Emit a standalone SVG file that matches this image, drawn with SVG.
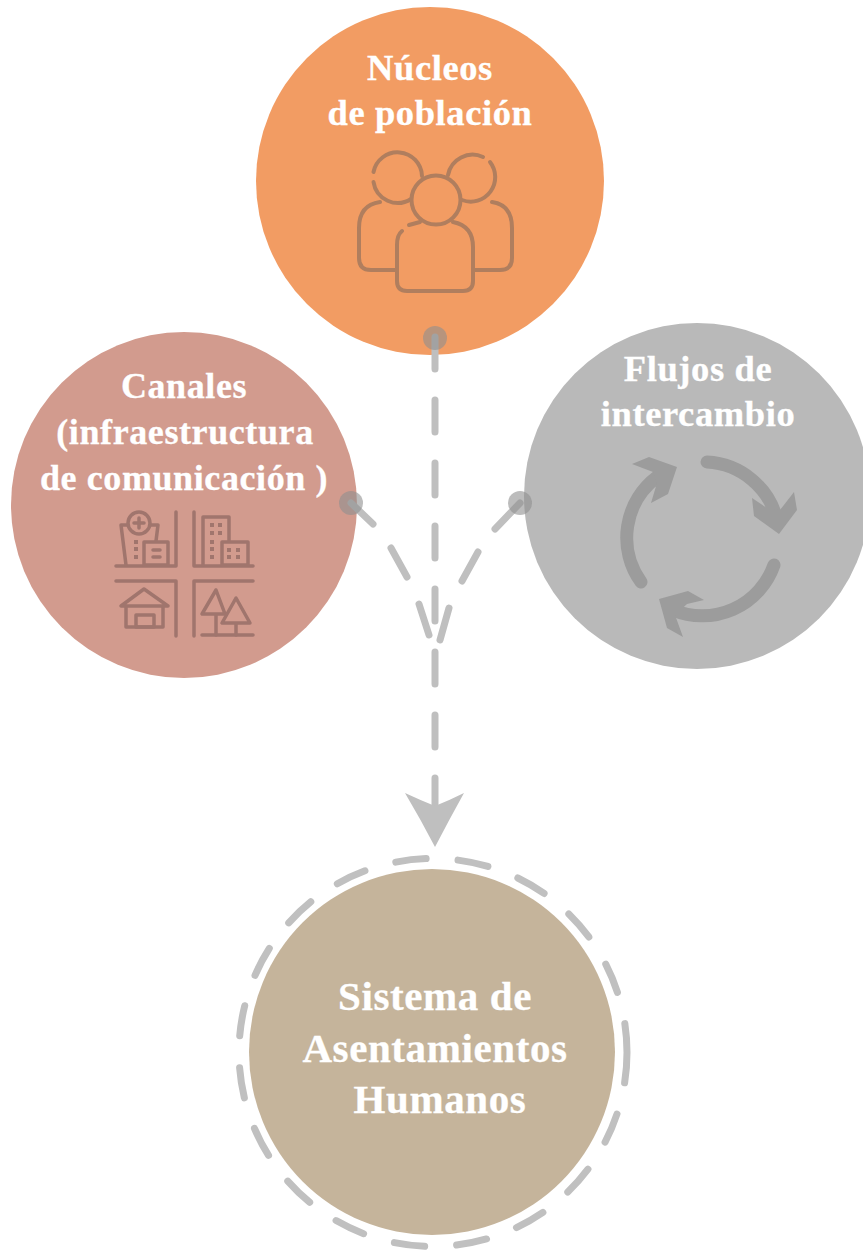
<svg xmlns="http://www.w3.org/2000/svg" width="863" height="1252" viewBox="0 0 863 1252">
<style>
.t{font-family:"Liberation Serif","Times New Roman",serif;font-weight:700;fill:#fff;text-anchor:middle;letter-spacing:.6px;stroke:#fff;stroke-width:.3}
.l{fill:none;stroke-linecap:round;stroke-linejoin:round}
.c{stroke:#bfbfbf;stroke-width:7;fill:none;stroke-linecap:round}
.dot{fill:#8f8f8f;fill-opacity:.6}
.pe{stroke:#b07e5e;stroke-width:4}
.ci{stroke:#a0756d;stroke-width:3.5}
.w{fill:#a0756d}
.ar{fill:#9c9c9c}
</style>
<rect width="863" height="1252" fill="#fff"/>
<g id="node-nucleos">
<circle cx="430" cy="181" r="174" fill="#f29c63"/>
<text class="t" x="430" y="80" font-size="36.500">Núcleos</text>
<text class="t" x="430" y="125" font-size="36.500">de población</text>
<g class="l pe">
<path d="M373.500 172A24.500 24.500 0 0 1 422 176"/><path d="M373.500 182A24.500 24.500 0 0 0 411 199"/>
<path d="M448 175A25 25 0 0 1 483 157"/><path d="M490 162A24.500 24.500 0 0 1 462 200"/>
<circle cx="436" cy="200" r="24.500"/>
<path d="M380 202Q359 205 359 228V258Q359 270 371 270H396"/>
<path d="M492 202Q512 205 512 228V258Q512 270 500 270H474"/>
<path d="M402 231Q397 235 397 245V281Q397 291 407 291H463Q473 291 473 281V247Q473 226 453 222"/>
<path d="M409 225L420 222"/>
</g>
</g>
<g id="node-canales">
<circle cx="184" cy="505" r="173" fill="#d29b8e"/>
<text class="t" x="184" y="398" font-size="36">Canales</text>
<text class="t" x="185" y="444" font-size="36">(infraestructura</text>
<text class="t" x="184" y="490" font-size="36">de comunicación )</text>
<g class="l ci">
<path d="M176 512V566H116M194 512V566H253M116 581H176V636M253 581H194V636M202 635H253"/>
<circle cx="139" cy="523" r="11"/><path d="M139 518V528M134 523H144"/>
<path d="M128 525H121L126 565M150 525H158L156 541"/>
<rect x="144" y="542" width="24" height="23"/><path d="M153 550H160M153 557H160"/>
<path d="M203 565V517H229V541"/><rect x="222" y="542" width="26" height="23"/>
<path d="M144 589L121 606H168ZM126 606V627H163V606"/><rect x="136" y="615" width="18" height="12"/>
<path d="M216 590L202 614H225ZM216 614V635"/>
<path d="M236 598L222 623H250ZM236 623V635"/>
</g>
<g class="w">
<rect x="134" y="540" width="4" height="4"/><rect x="134" y="547" width="4" height="4"/><rect x="134" y="555" width="4" height="4"/>
<rect x="210" y="523" width="4" height="4"/><rect x="218" y="523" width="4" height="4"/><rect x="210" y="531" width="4" height="4"/><rect x="218" y="531" width="4" height="4"/><rect x="210" y="540" width="4" height="4"/><rect x="210" y="547" width="4" height="4"/><rect x="210" y="555" width="4" height="4"/>
<rect x="227" y="548" width="4" height="4"/><rect x="236" y="548" width="4" height="4"/><rect x="227" y="555" width="4" height="4"/><rect x="236" y="555" width="4" height="4"/>
</g>
</g>
<g id="node-flujos">
<circle cx="697" cy="496" r="173" fill="#b9b9b9"/>
<text class="t" x="698" y="381" font-size="36.500">Flujos de</text>
<text class="t" x="698" y="426" font-size="36.500">intercambio</text>
<g class="l" stroke="#9c9c9c" stroke-width="13">
<path d="M641 582A76 76 0 0 1 657 477"/>
<path d="M707 462A76 76 0 0 1 777 520"/>
<path d="M774 565A76 76 0 0 1 673 610"/>
</g>
<path class="ar" d="M632 464L649 457L677 467L668 494L651 503L657 483L653 472Z"/>
<path class="ar" d="M794 492L797 510L779 534L754 516L752 498L767 508L780 510Z"/>
<path class="ar" d="M659 599L688 591L704 600L687 604L675 615L683 637L667 628Z"/>
</g>
<g id="node-sistema">
<circle cx="433" cy="1052.500" r="194" fill="none" stroke="#c0c0c0" stroke-width="7" stroke-linecap="round" stroke-dasharray="30.500 32.100"/>
<circle cx="432" cy="1052" r="183" fill="#c5b49b"/>
<text class="t" x="435" y="1010" font-size="41">Sistema de</text>
<text class="t" x="435" y="1062" font-size="41">Asentamientos</text>
<text class="t" x="440" y="1113" font-size="41">Humanos</text>
</g>
<g id="connectors">
<path class="c" d="M435 337V832" stroke-dasharray="32 31"/>
<path class="c" d="M351 503L373 524M391 548L407 577M419 604L429 635"/>
<path class="c" d="M520 503L495 529M478 552L462 581M449 608L440 640"/>
<path fill="#bfbfbf" d="M435 847Q421 820 405 793Q420 800 435 806Q450 800 464 793Q449 820 435 847Z"/>
<circle class="dot" cx="435" cy="338" r="12"/>
<circle class="dot" cx="351" cy="503" r="12"/>
<circle class="dot" cx="520" cy="503" r="12"/>
</g>
</svg>
